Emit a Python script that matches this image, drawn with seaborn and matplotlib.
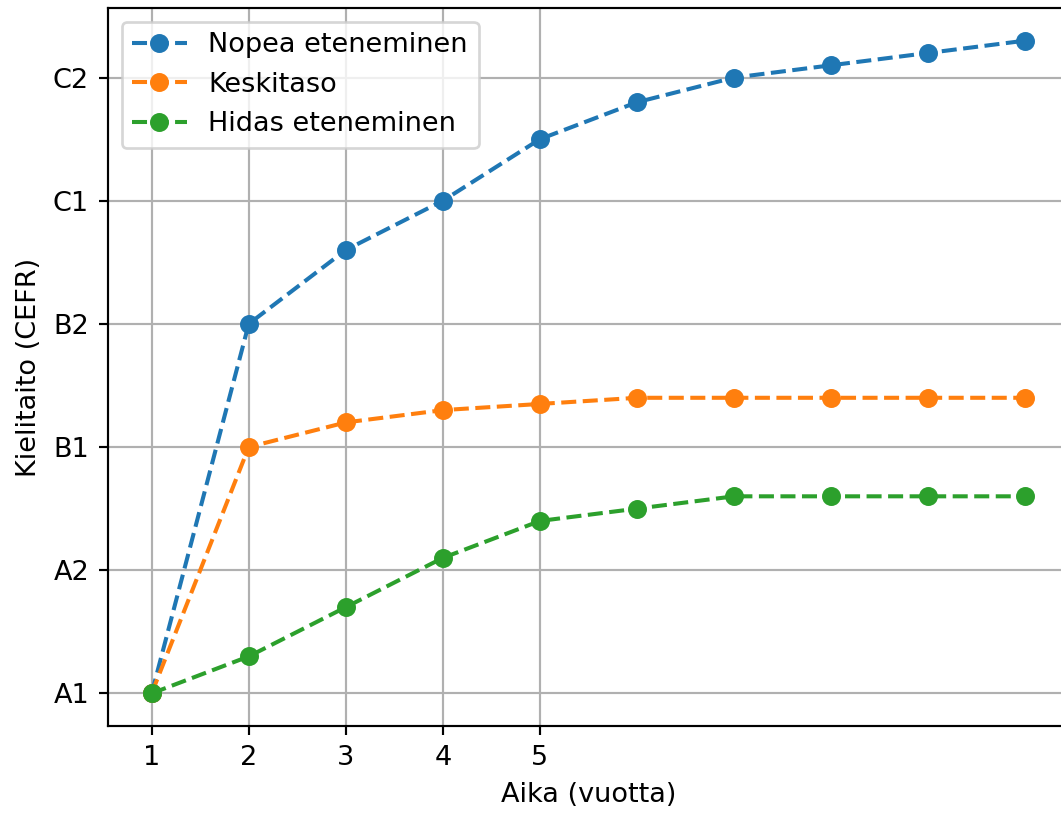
import matplotlib
matplotlib.use("Agg")
import matplotlib.pyplot as plt
import seaborn as sns
import pandas as pd

years = [1, 2, 3, 4, 5, 6, 7, 8, 9, 10]
nopea = [1.0, 4.0, 4.6, 5.0, 5.5, 5.8, 6.0, 6.1, 6.2, 6.3]
keskitaso = [1.0, 3.0, 3.2, 3.3, 3.35, 3.4, 3.4, 3.4, 3.4, 3.4]
hidas = [1.0, 1.3, 1.7, 2.1, 2.4, 2.5, 2.6, 2.6, 2.6, 2.6]
series_names = ["Nopea eteneminen", "Keskitaso", "Hidas eteneminen"]
level_values = [1, 2, 3, 4, 5, 6]
level_labels = ["A1", "A2", "B1", "B2", "C1", "C2"]
xtick_values = [1, 2, 3, 4, 5]
xlabel = "Aika (vuotta)"
ylabel = "Kielitaito (CEFR)"

plt.rcParams['font.family'] = ['DejaVu Sans']
dpi = 195
fig = plt.figure(figsize=(1061 / dpi, 813 / dpi), dpi=dpi)
ax = fig.add_axes([108 / 1061, (813 - 726) / 813, (1069 - 108) / 1061, (726 - 8) / 813])

colors = ["#1f77b4", "#ff7f0e", "#2ca02c"]
for name, vals, c in zip(series_names, [nopea, keskitaso, hidas], colors):
    df = pd.DataFrame({"x": years, "y": vals})
    sns.lineplot(data=df, x="x", y="y", ax=ax, color=c, linestyle="--", marker="o",
                 markeredgecolor=c, markeredgewidth=1, markersize=6, label=name)

ax.set_xticks(xtick_values)
ax.set_yticks(level_values)
ax.set_yticklabels(level_labels)
ax.set_xlabel(xlabel)
ax.set_ylabel(ylabel)
ax.grid(True)
ax.legend(loc="upper left")

fig.savefig("out.png", dpi=dpi)
